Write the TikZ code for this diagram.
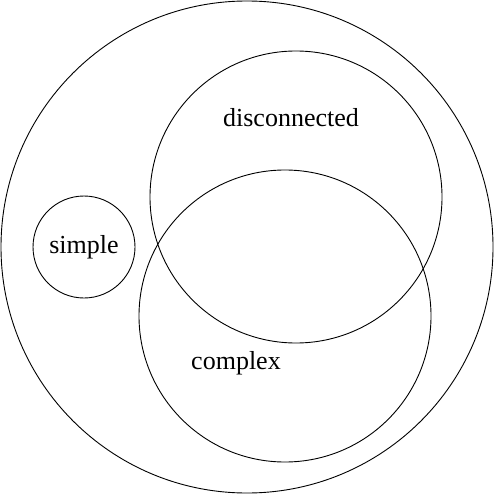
\documentclass[tikz,border=0pt]{standalone}
\usepackage{fontspec}
\setmainfont{Liberation Serif}
\begin{document}
\begin{tikzpicture}[x=1pt,y=-1pt,
    set/.style={draw,circle,line width=0.9pt,inner sep=0pt},
    lbl/.style={font=\fontsize{26}{30}\selectfont}]
    \useasboundingbox (0,0) rectangle (494,494);
    \node[set,minimum size=492pt] (all) at (247,247) {};
    \node[set,minimum size=292pt] (disc) at (296,197) {};
    \node[set,minimum size=292pt] (comp) at (285,316) {};
    \node[set,minimum size=102pt,lbl] (simple) at (84,247) {simple};
    \node[lbl] (disclbl) at (291,118) {disconnected};
    \node[lbl] (complbl) at (236,363) {complex};
\end{tikzpicture}
\end{document}
